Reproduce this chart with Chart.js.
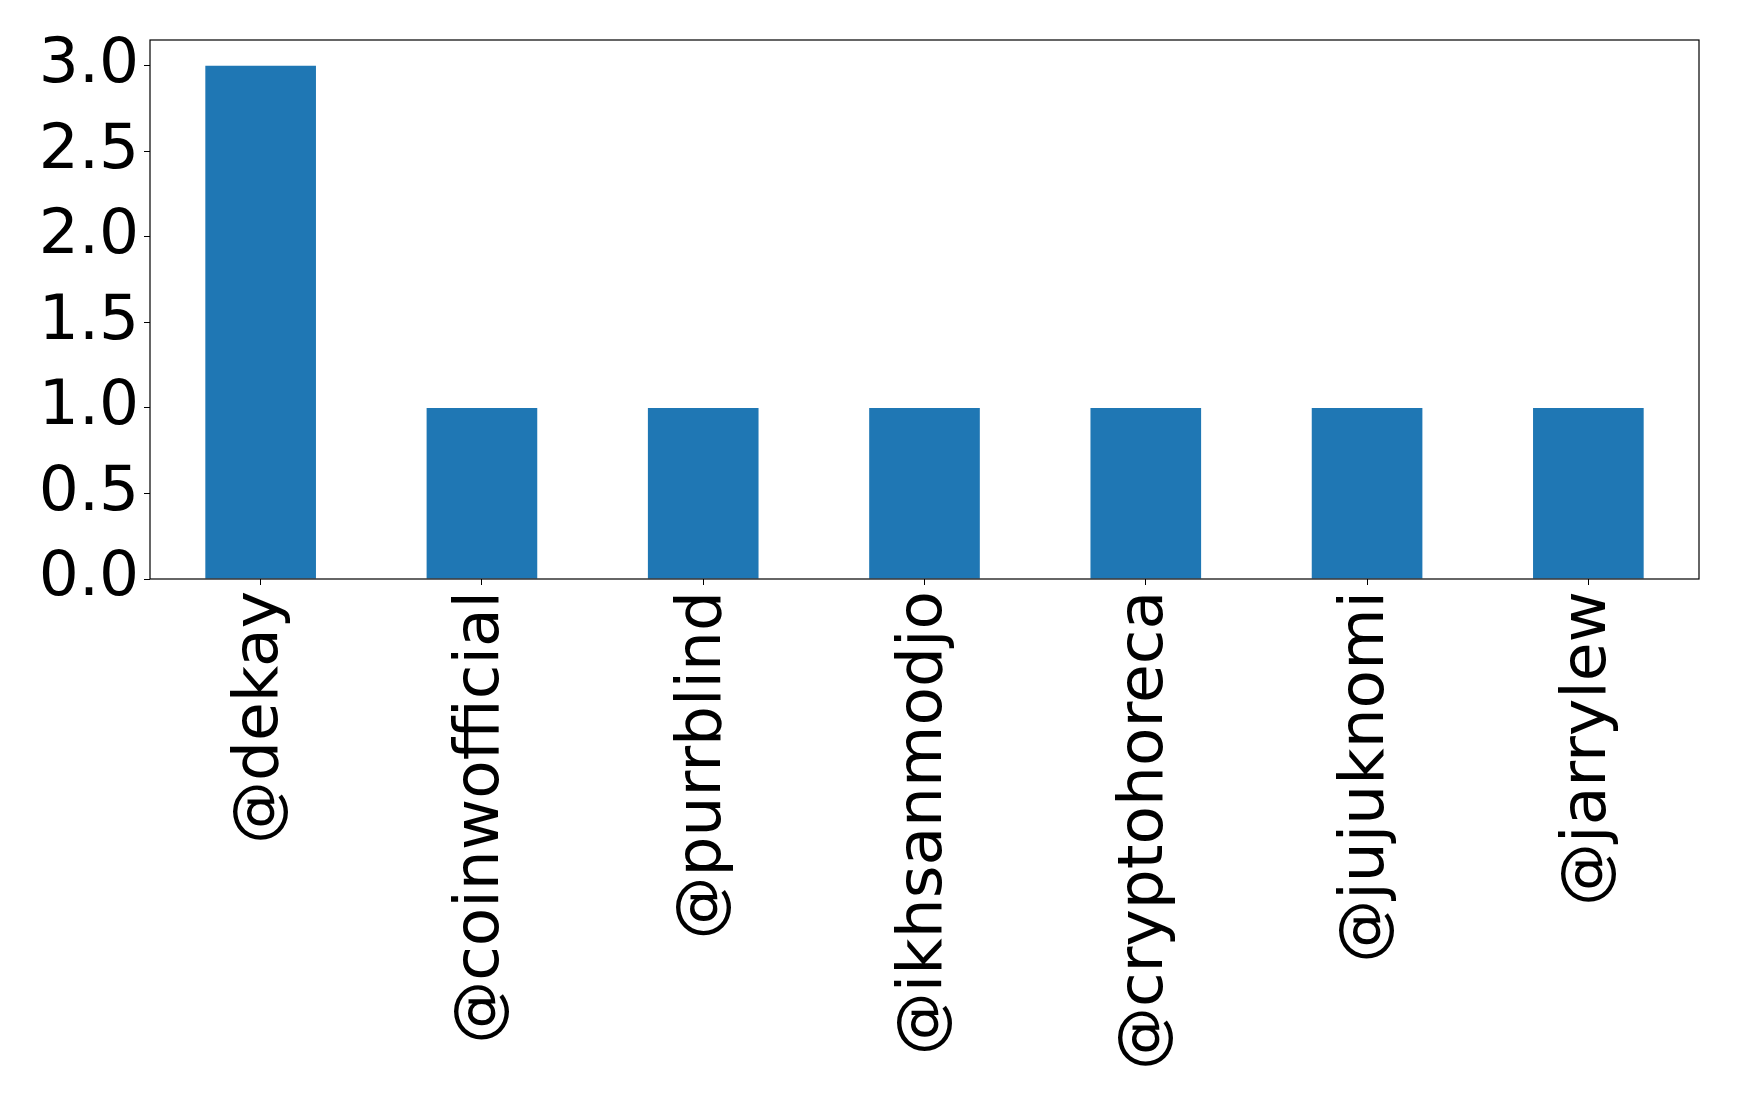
<!DOCTYPE html>
<html>
<head>
<meta charset="utf-8">
<script src="https://cdn.jsdelivr.net/npm/chart.js@4/dist/chart.umd.min.js"></script>
<style>
  html, body { margin: 0; padding: 0; background: #ffffff; }
  #wrap { width: 1739px; height: 1104px; }
</style>
</head>
<body>
<div id="wrap"><canvas id="chart" width="1739" height="1104"></canvas></div>
<script>
/* --------------- Data --------------------- */
const accounts = ["@dekay", "@coinwofficial", "@purrblind", "@ikhsanmodjo", "@cryptohoreca", "@jujuknomi", "@jarrylew"];
const counts = [3, 1, 1, 1, 1, 1, 1];
const yTicks = [0, 0.5, 1, 1.5, 2, 2.5, 3];

/* --------------- Frame round the plot area --------------------- */
const frame = {
  id: "frame",
  afterDatasetsDraw(chart) {
    const { ctx, chartArea: a } = chart;
    ctx.save();
    ctx.strokeStyle = "#000000";
    ctx.lineWidth = 1.2;
    ctx.strokeRect(a.left, a.top, a.right - a.left, a.bottom - a.top);
    ctx.restore();
  },
};

const font = { family: "'DejaVu Sans', sans-serif", size: 63 };

new Chart(document.getElementById("chart"), {
  type: "bar",
  plugins: [frame],
  data: {
    labels: accounts,
    datasets: [
      {
        data: counts,
        backgroundColor: "#1f77b4",
        categoryPercentage: 1,
        barPercentage: 0.5,
      },
    ],
  },
  options: {
    responsive: false,
    animation: false,
    layout: { padding: { left: 0, right: 40, top: 40, bottom: 0 } },
    plugins: { legend: { display: false }, tooltip: { enabled: false } },
    scales: {
      x: {
        grid: { offset: false, drawOnChartArea: false, drawTicks: true, tickLength: 6, color: "#000000" },
        border: { display: false },
        ticks: {
          color: "#000000",
          font: font,
          autoSkip: false,
          minRotation: 90,
          maxRotation: 90,
          padding: 6,
        },
        afterFit: (scale) => {
          scale.height = 525;
          scale.paddingLeft = 0;
          scale.paddingRight = 0;
        },
      },
      y: {
        min: 0,
        max: 3.15,
        grid: { drawOnChartArea: false, drawTicks: true, tickLength: 6, color: "#000000" },
        border: { display: false },
        afterBuildTicks: (scale) => { scale.ticks = yTicks.map((v) => ({ value: v })); },
        ticks: {
          color: "#000000",
          font: font,
          padding: 5,
          callback: (v) => Number(v).toFixed(1),
        },
        afterFit: (scale) => {
          scale.width = 150;
          scale.paddingTop = 0;
          scale.paddingBottom = 0;
        },
      },
    },
  },
});
</script>
</body>
</html>
